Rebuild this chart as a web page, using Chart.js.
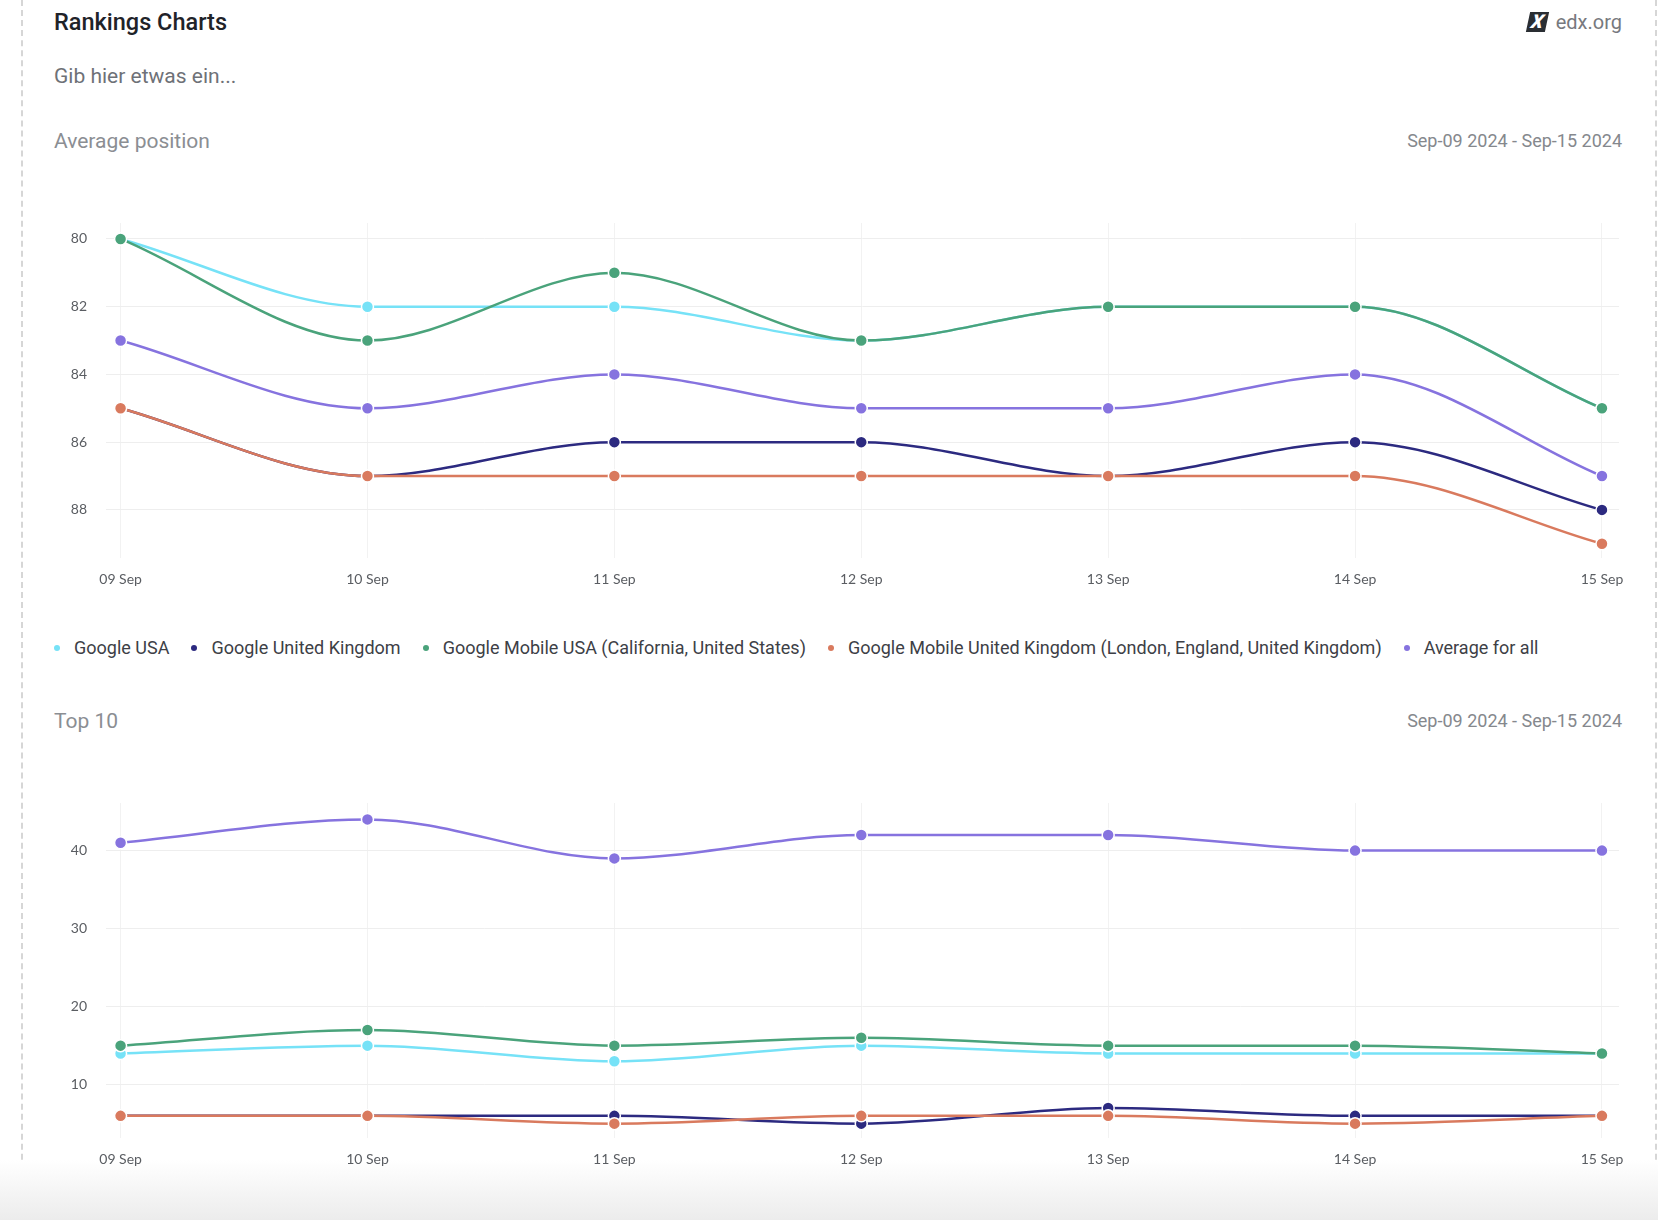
<!DOCTYPE html>
<html>
<head>
<meta charset="utf-8">
<title>Rankings Charts</title>
<script src="https://cdn.jsdelivr.net/npm/chart.js@4.4.1/dist/chart.umd.min.js"></script>
<style>
  html, body { margin: 0; padding: 0; background: #fff; }
  body { width: 1658px; height: 1220px; position: relative; overflow: hidden; font-family: Roboto, "Noto Sans", sans-serif; }
  .frame { position: absolute; left: 21px; top: 0; width: 1632px; height: 1220px; border-left: 2px dashed #d6d6d6; border-right: 2px dashed #d6d6d6; }
  .fade { position: absolute; left: 0; right: 0; top: 1160px; height: 60px; background: linear-gradient(#ffffff, #ececec); }
  .txt { position: absolute; white-space: nowrap; }
  .title { left: 54px; top: 8px; font-size: 23.5px; line-height: 28px; font-weight: 500; color: #1f2329; }
  .sub { left: 54px; top: 63px; font-size: 21px; line-height: 26px; color: #6e7177; }
  .head { left: 54px; font-size: 21px; line-height: 26px; color: #8b8e93; }
  .range { right: 36px; font-size: 18px; line-height: 24px; color: #85888d; }
  .site { right: 36px; top: 9px; font-size: 20px; line-height: 26px; color: #77797e; display: flex; align-items: center; }
  .logo { display: inline-block; width: 19px; height: 20px; background: #2a2e33; color: #fff; font-weight: 900; font-size: 19px; line-height: 20px; text-align: center; transform: skewX(-12deg); margin-right: 9px; font-style: italic; }
  .legend { left: 54px; top: 636px; font-size: 18px; line-height: 24px; color: #3d4046; display: flex; align-items: center; }
  .legend span.item { display: flex; align-items: center; margin-right: 22px; }
  .legend i { display: inline-block; width: 6px; height: 6px; border-radius: 50%; margin-right: 14px; }
  .box { position: absolute; left: 60px; width: 1570px; height: 400px; }
</style>
</head>
<body>
<div class="frame"></div>
<div class="fade"></div>

<div class="txt title">Rankings Charts</div>
<div class="txt site"><span class="logo">X</span>edx.org</div>
<div class="txt sub">Gib hier etwas ein...</div>

<div class="txt head" style="top:128px">Average position</div>
<div class="txt range" style="top:129px">Sep-09 2024 - Sep-15 2024</div>
<div class="box" style="top:200px"><canvas id="posChart"></canvas></div>

<div class="txt legend" id="legend"></div>

<div class="txt head" style="top:708px">Top 10</div>
<div class="txt range" style="top:709px">Sep-09 2024 - Sep-15 2024</div>
<div class="box" style="top:780px"><canvas id="topChart"></canvas></div>

<script>
// category labels
const days = ['09 Sep', '10 Sep', '11 Sep', '12 Sep', '13 Sep', '14 Sep', '15 Sep'];

const seriesNames = [
    'Google USA',
    'Google United Kingdom',
    'Google Mobile USA (California, United States)',
    'Google Mobile United Kingdom (London, England, United Kingdom)',
    'Average for all'
];
const seriesColors = ['#76e2f7', '#2c2a80', '#4aa37b', '#d97a5e', '#8673df'];

// Average position (lower is better)
const posGoogleUSA = [80, 82, 82, 83, 82, 82, 85];
const posGoogleUK = [85, 87, 86, 86, 87, 86, 88];
const posMobileUSA = [80, 83, 81, 83, 82, 82, 85];
const posMobileUK = [85, 87, 87, 87, 87, 87, 89];
const posAverage = [83, 85, 84, 85, 85, 84, 87];
const posTicks = [80, 82, 84, 86, 88];

// Top 10
const topGoogleUSA = [14, 15, 13, 15, 14, 14, 14];
const topGoogleUK = [6, 6, 6, 5, 7, 6, 6];
const topMobileUSA = [15, 17, 15, 16, 15, 15, 14];
const topMobileUK = [6, 6, 5, 6, 6, 5, 6];
const topAverage = [41, 44, 39, 42, 42, 40, 40];
const topTicks = [10, 20, 30, 40];

// legend (html, under first chart)
const legendEl = document.getElementById('legend');
seriesNames.forEach((name, i) => {
    const item = document.createElement('span');
    item.className = 'item';
    item.innerHTML = '<i style="background:' + seriesColors[i] + '"></i>' + name;
    legendEl.appendChild(item);
});

function makeDatasets(lists) {
    // later series drawn on top
    return lists.map((vals, i) => ({
        label: seriesNames[i],
        data: vals.map((v, j) => ({ x: j, y: v })),
        borderColor: seriesColors[i],
        backgroundColor: seriesColors[i],
        pointBackgroundColor: seriesColors[i],
        pointBorderColor: '#ffffff',
        pointBorderWidth: 1.5,
        pointRadius: 6,
        borderWidth: 2.5,
        cubicInterpolationMode: 'monotone',
        fill: false,
        order: lists.length - i
    }));
}

function buildChart(id, lists, yTicks, yMin, yMax, reverse) {
    const ctx = document.getElementById(id).getContext('2d');
    return new Chart(ctx, {
        type: 'line',
        data: { datasets: makeDatasets(lists) },
        options: {
            responsive: true,
            maintainAspectRatio: false,
            animation: false,
            layout: { padding: { top: 23, right: 11, left: 0, bottom: 0 } },
            plugins: { legend: { display: false }, tooltip: { enabled: false } },
            scales: {
                x: {
                    type: 'linear',
                    min: -0.059,
                    max: 6.069,
                    afterBuildTicks: s => { s.ticks = days.map((d, i) => ({ value: i })); },
                    afterFit: s => { s.height = 42; },
                    ticks: {
                        callback: v => days[v],
                        color: '#5a5d62',
                        font: { family: 'Lato', size: 14 },
                        padding: 3,
                        maxRotation: 0
                    },
                    grid: { color: '#f2f2f2', drawTicks: true, tickLength: 10, tickColor: 'rgba(0,0,0,0)' },
                    border: { display: false }
                },
                y: {
                    reverse: reverse,
                    min: yMin,
                    max: yMax,
                    afterBuildTicks: s => { s.ticks = yTicks.map(v => ({ value: v })); },
                    afterFit: s => { s.width = 46; },
                    ticks: {
                        color: '#5a5d62',
                        font: { family: 'Lato', size: 14 },
                        padding: 12
                    },
                    grid: { color: '#eeeeee', drawTicks: true, tickLength: 7, tickColor: 'rgba(0,0,0,0)' },
                    border: { display: false }
                }
            }
        }
    });
}

buildChart('posChart',
    [posGoogleUSA, posGoogleUK, posMobileUSA, posMobileUK, posAverage],
    posTicks, 79.53, 89.42, true);

buildChart('topChart',
    [topGoogleUSA, topGoogleUK, topMobileUSA, topMobileUK, topAverage],
    topTicks, 3.16, 46.1, false);
</script>
</body>
</html>
